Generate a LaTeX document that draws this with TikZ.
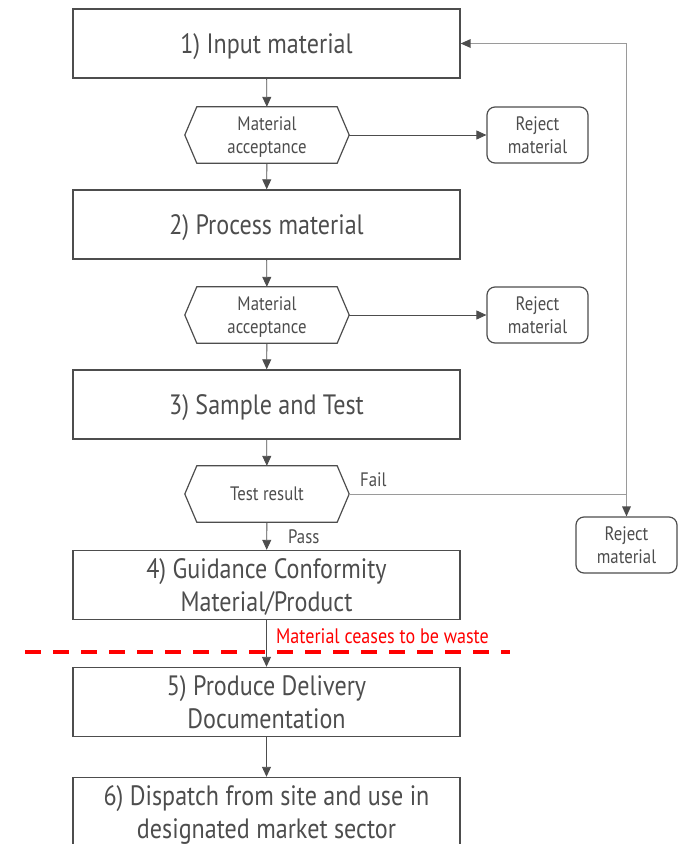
\documentclass[tikz,border=0pt]{standalone}
\usepackage{fontspec}
\setmainfont{PT Sans}[FakeStretch=0.86]
\usetikzlibrary{arrows.meta}
\definecolor{ink}{HTML}{4D4D4D}
\definecolor{fb}{HTML}{9A9A9A}
\begin{document}
\begin{tikzpicture}[x=1pt,y=-1pt,
  mainbox/.style={draw=ink,line width=1.4pt,minimum width=387pt,minimum height=69pt,inner sep=0pt,align=center,text depth=0pt,text=ink,font=\fontsize{28}{33}\selectfont},
  hexnode/.style={minimum width=164pt,minimum height=56pt,inner sep=0pt,align=center,text depth=0pt,text=ink,font=\fontsize{19.5}{23}\selectfont},
  rejbox/.style={draw=ink,line width=1.2pt,rounded corners=8pt,minimum width=101pt,minimum height=56pt,inner sep=0pt,align=center,text=ink,font=\fontsize{19.5}{23}\selectfont},
  conn/.style={draw=ink,line width=0.9pt,-{Triangle[length=10pt,width=9pt]}},
  fbline/.style={draw=fb,line width=1pt},
  lbl/.style={text=ink,font=\fontsize{19.5}{22}\selectfont,inner sep=0pt}
]
\useasboundingbox (0,0) rectangle (687,844);
\node[mainbox] (b1) at (266.5,43.5) {1) Input material};
\node[hexnode] (h1) at (267,135) {Material\\acceptance};
\node[rejbox] (r1) at (537.5,135) {Reject\\material};
\node[mainbox] (b2) at (266.5,224.5) {2) Process material};
\node[hexnode] (h2) at (267,315) {Material\\acceptance};
\node[rejbox] (r2) at (537.5,315) {Reject\\material};
\node[mainbox] (b3) at (266.5,404.5) {3) Sample and Test};
\node[hexnode] (h3) at (267,494) {Test result};
\node[rejbox] (r3) at (626.5,545) {Reject\\material};
\node[mainbox] (b4) at (266.5,585) {4) Guidance Conformity\\Material/Product};
\node[mainbox] (b5) at (266.5,702) {5) Produce Delivery\\Documentation};
\node[mainbox] (b6) at (266.5,812) {6) Dispatch from site and use in\\designated market sector};
\foreach \h in {h1,h2,h3}{
  \draw[ink,line width=1.2pt] (\h.west) -- ([xshift=12pt]\h.north west) -- ([xshift=-12pt]\h.north east) -- (\h.east) -- ([xshift=-12pt]\h.south east) -- ([xshift=12pt]\h.south west) -- cycle;
}
\coordinate (c1) at (r3.north |- h3.east);
\coordinate (c2) at (r3.north |- b1.east);
\draw[conn] (b1) -- (h1);
\draw[conn] (h1) -- (b2);
\draw[conn] (b2) -- (h2);
\draw[conn] (h2) -- (b3);
\draw[conn] (b3) -- (h3);
\draw[conn] (h3) -- (b4);
\node[lbl,anchor=west] (pass) at (288,537) {Pass};
\draw[conn] (h1) -- (r1);
\draw[conn] (h2) -- (r2);
\draw[fbline] (h3.east) -- (c1);
\node[lbl,anchor=west] (fail) at (360,480) {Fail};
\draw[fbline] (c1) -- (c2);
\draw[fbline] (c2) -- (b1.east);
\fill[ink] (b1.east) -- ++(10,-4.5) -- ++(0,9) -- cycle;
\draw[fbline] (c1) -- (r3.north);
\fill[ink] (r3.north) -- ++(-4.5,-10) -- ++(9,0) -- cycle;
\draw[conn] (b4) -- (b5);
\draw[conn] (b5) -- (b6);
\coordinate (dl) at (25,652);
\coordinate (dr) at (510,652);
\draw[red,line width=4.5pt,dash pattern=on 16pt off 12pt] (dl) -- (dr);
\node[anchor=west,text=red,font=\fontsize{21}{24}\selectfont,inner sep=0pt] (cw) at (276,636) {Material ceases to be waste};
\end{tikzpicture}
\end{document}
